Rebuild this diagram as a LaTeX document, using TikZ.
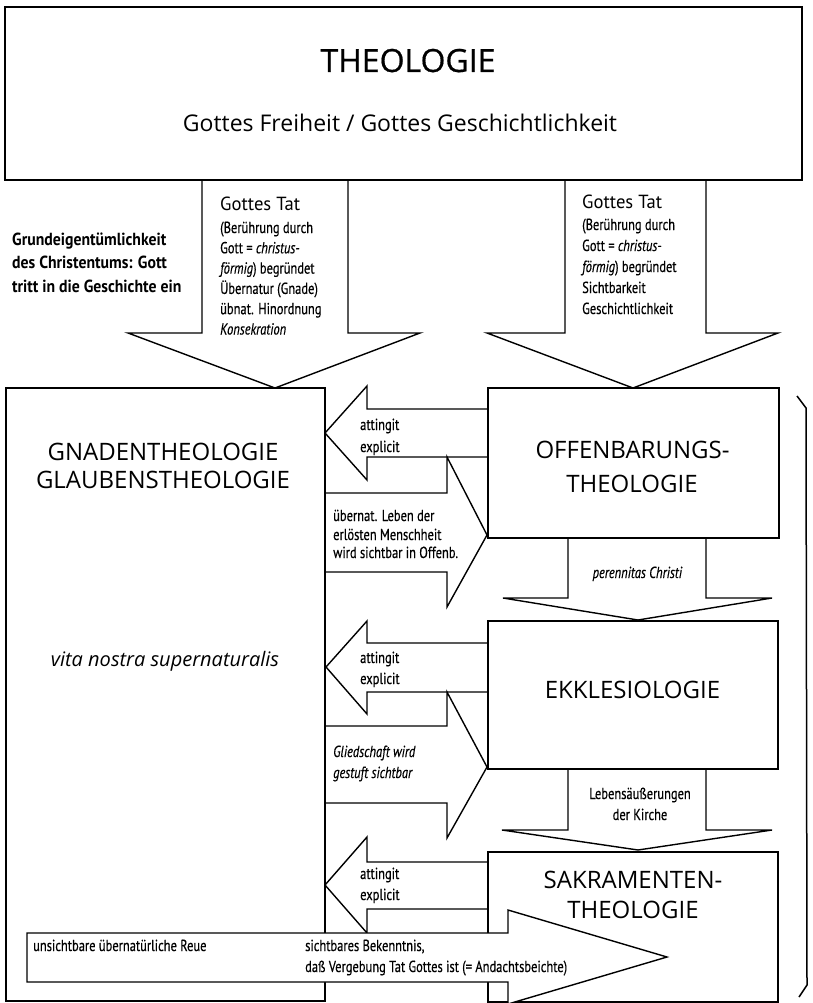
\documentclass[tikz,border=0pt]{standalone}
\usepackage{fontspec}
\setmainfont{Open Sans}
\newfontfamily\titlef{Open Sans}[FakeBold=0.6]
\newfontfamily\smallf{PT Sans}[FakeStretch=0.78,FakeBold=0.4]
\newfontfamily\boldf{PT Sans}[FakeStretch=0.9]
\newfontfamily\taf{PT Sans}[FakeStretch=0.98]
\begin{document}
\begin{tikzpicture}[x=1pt,y=-1pt,
  box/.style={draw, line width=2.6pt, inner sep=0pt},
  blk/.style={draw, line width=1.4pt, fill=white, line join=miter},
  lbl/.style={font=\fontsize{24}{29}\selectfont, anchor=base, inner sep=0pt},
  sm/.style={font=\smallf\fontsize{16}{18}\selectfont, anchor=base west, inner sep=0pt},
  tat/.style={font=\taf\fontsize{19}{22}\selectfont, anchor=base west, inner sep=0pt},
  bl/.style={font=\boldf\bfseries\fontsize{17.5}{20}\selectfont, anchor=base west, inner sep=0pt}
 ]
\useasboundingbox (0,0) rectangle (812,1003);
\clip (0,0) rectangle (812,1003);

% down arrows from THEOLOGIE
\draw[blk] (202,180) -- (202,333) -- (128,333) -- (275,388) -- (420,333) -- (348,333) -- (348,180);
\draw[blk] (565,180) -- (565,333) -- (487,333) -- (633,388) -- (778,333) -- (706,333) -- (706,180);
% top box
\node[draw, line width=2.2pt, minimum width=797pt, minimum height=173pt, inner sep=0pt] (theo) at (403.5,93.5) {};

% vertical arrows between right boxes
\draw[blk] (568,538) -- (568,598) -- (503,598) -- (638,620) -- (772,598) -- (706,598) -- (706,538);
\draw[blk] (568,769) -- (568,830) -- (502,830) -- (638,850) -- (772,830) -- (706,830) -- (706,769);

% attingit arrows (pointing left)
\draw[blk] (488,409) -- (367,409) -- (367,386) -- (325,433) -- (367,480) -- (367,457) -- (488,457);
\draw[blk] (488,643) -- (367,643) -- (367,621) -- (326,667) -- (367,714) -- (367,692) -- (488,692);
\draw[blk] (488,862) -- (367,862) -- (367,837) -- (325,885) -- (367,933) -- (367,909) -- (488,909);

% arrows pointing right
\draw[blk] (325,493) -- (447,493) -- (447,457) -- (487,535) -- (447,607) -- (447,572) -- (325,572);
\draw[blk] (325,726) -- (447,726) -- (447,692) -- (487,767) -- (447,838) -- (447,803) -- (325,803);

% boxes
\node[box, minimum width=319pt, minimum height=613pt] (gnade) at (165.5,694.5) {};
\node[box, minimum width=291pt, minimum height=150pt] (offb) at (633.5,463) {};
\node[box, minimum width=290pt, minimum height=148pt] (ekkl) at (633,695) {};
\node[box, minimum width=290pt, minimum height=150pt] (sakr) at (633,927) {};

% long bottom arrow
\draw[blk] (27,933) -- (508,933) -- (508,910) -- (667,957) -- (508,1004) -- (508,982) -- (27,982) -- cycle;

% bracket at right
\draw[line width=1.5pt] (797,396) -- (806,408) -- (807,985) -- (799,997);

% texts in boxes
\node[font=\titlef\fontsize{32}{36}\selectfont, anchor=base, inner sep=0pt] (t1) at (408,72) {THEOLOGIE};
\node[font=\fontsize{23}{27}\selectfont, anchor=base, inner sep=0pt] (t2) at (400,132) {Gottes Freiheit / Gottes Geschichtlichkeit};
\node[lbl] (g1) at (163,460) {GNADENTHEOLOGIE};
\node[lbl] (g2) at (163,488) {GLAUBENSTHEOLOGIE};
\node[font=\itshape\fontsize{20}{24}\selectfont, anchor=base, inner sep=0pt] (g3) at (165,666) {vita nostra supernaturalis};
\node[lbl] (o1) at (632.5,458) {OFFENBARUNGS-};
\node[lbl] (o2) at (632,492) {THEOLOGIE};
\node[lbl] (e1) at (632.5,698) {EKKLESIOLOGIE};
\node[lbl] (s1) at (633,888) {SAKRAMENTEN-};
\node[lbl] (s2) at (633,918) {THEOLOGIE};

% bold left text
\node[bl] (b1) at (12,245) {Grundeigentümlichkeit};
\node[bl] (b2) at (12,268.5) {des Christentums: Gott};
\node[bl] (b3) at (12,292) {tritt in die Geschichte ein};

% left down arrow text
\node[tat] (l0) at (220,211) {Gottes Tat};
\node[sm] (l1) at (220,233) {(Berührung durch};
\node[sm] (l2) at (220,253.3) {Gott = \textit{christus-}};
\node[sm] (l3) at (220,273.6) {\textit{förmig}) begründet};
\node[sm] (l4) at (220,293.9) {Übernatur (Gnade)};
\node[sm] (l5) at (220,314.2) {übnat. Hinordnung};
\node[sm] (l6) at (220,334.5) {\textit{Konsekration}};

% right down arrow text
\node[tat] (r0) at (582,208) {Gottes Tat};
\node[sm] (r1) at (582,230) {(Berührung durch};
\node[sm] (r2) at (582,251) {Gott = \textit{christus-}};
\node[sm] (r3) at (582,272) {\textit{förmig}) begründet};
\node[sm] (r4) at (582,293) {Sichtbarkeit};
\node[sm] (r5) at (582,314) {Geschichtlichkeit};

% attingit texts
\node[sm] (a1) at (360,430) {attingit};
\node[sm] (a2) at (360,452) {explicit};
\node[sm] (a3) at (360,663) {attingit};
\node[sm] (a4) at (360,684) {explicit};
\node[sm] (a5) at (360,879) {attingit};
\node[sm] (a6) at (360,900) {explicit};

% right arrow texts
\node[sm] (u1) at (333,521) {übernat. Leben der};
\node[sm] (u2) at (333,540) {erlösten Menschheit};
\node[sm] (u3) at (333,558) {wird sichtbar in Offenb.};
\node[sm] (u4) at (333,757) {\textit{Gliedschaft wird}};
\node[sm] (u5) at (333,778) {\textit{gestuft sichtbar}};

% vertical arrow texts
\node[sm, anchor=base] (p1) at (637.5,578) {\textit{perennitas Christi}};
\node[sm, anchor=base] (k1) at (640,799) {Lebensäußerungen};
\node[sm, anchor=base] (k2) at (640,820) {der Kirche};

% long arrow texts
\node[sm] (z1) at (33,951) {unsichtbare übernatürliche Reue};
\node[sm] (z2) at (305,951) {sichtbares Bekenntnis,};
\node[sm] (z3) at (305,972) {daß Vergebung Tat Gottes ist (= Andachtsbeichte)};
\end{tikzpicture}
\end{document}
